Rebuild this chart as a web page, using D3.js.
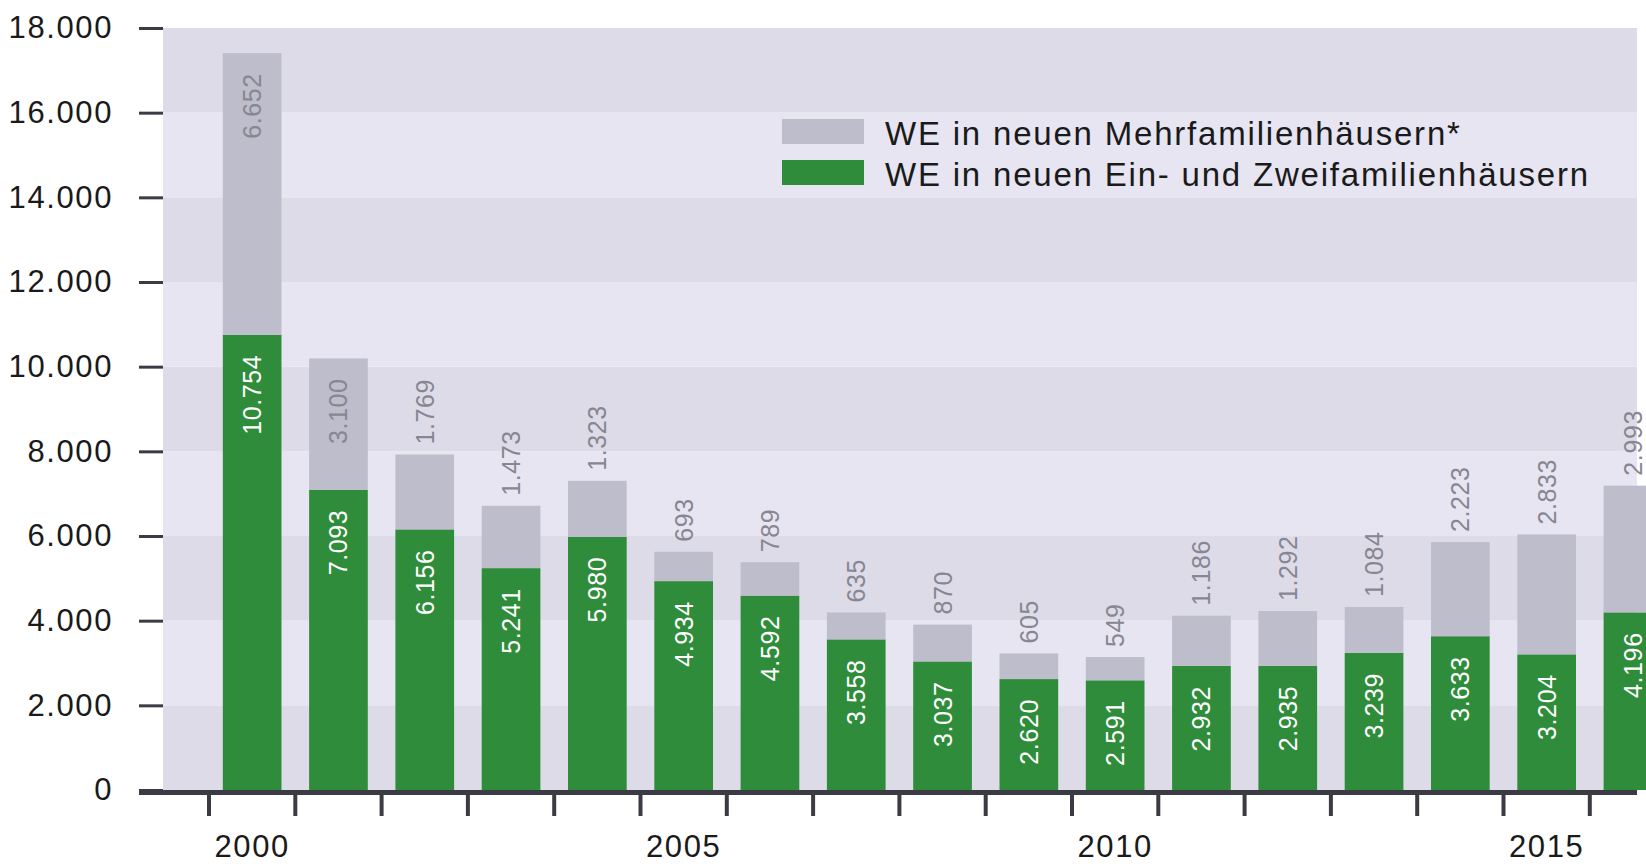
<!DOCTYPE html>
<html>
<head>
<meta charset="utf-8">
<script src="https://cdn.jsdelivr.net/npm/d3@7"></script>
<style>
  body { margin: 0; background: #fff; }
  svg { display: block; }
  text { font-family: "Liberation Sans", Arial, sans-serif; }
</style>
</head>
<body>
<div id="chart"></div>
<script>
// Wohneinheiten (WE) in neuen Wohngebäuden, 2000-2016
var years = [2000, 2001, 2002, 2003, 2004, 2005, 2006, 2007, 2008, 2009, 2010, 2011, 2012, 2013, 2014, 2015, 2016];
var einZwei = [10754, 7093, 6156, 5241, 5980, 4934, 4592, 3558, 3037, 2620, 2591, 2932, 2935, 3239, 3633, 3204, 4196];
var mehr = [6652, 3100, 1769, 1473, 1323, 693, 789, 635, 870, 605, 549, 1186, 1292, 1084, 2223, 2833, 2993];
var yTicks = [0, 2000, 4000, 6000, 8000, 10000, 12000, 14000, 16000, 18000];
var xLabels = [2000, 2005, 2010, 2015];
var seriesNames = ['WE in neuen Mehrfamilienhäusern*', 'WE in neuen Ein- und Zweifamilienhäusern'];

var W = 1646, H = 866;
var green = '#2f8c3a', grey = '#bebdcb', axisCol = '#3b3b44';

var de = d3.formatLocale({ decimal: ',', thousands: '.', grouping: [3], currency: ['', ' €'] });
var fmt = de.format(',');

var svg = d3.select('#chart').append('svg').attr('width', W).attr('height', H);

var plotLeft = 163, plotRight = 1637;

var y = d3.scaleLinear().domain([0, 18000]).range([790, 28]);

var xScale = d3.scaleBand()
    .domain(years)
    .range([209, 209 + 17 * 86.3])
    .paddingInner(0.32)
    .paddingOuter(0.16);

// striped background
var bands = d3.range(0, 18000, 2000);
svg.append('g').selectAll('rect')
    .data(bands)
    .enter().append('rect')
    .attr('x', plotLeft)
    .attr('width', plotRight - plotLeft)
    .attr('y', d => y(d + 2000))
    .attr('height', d => y(d) - y(d + 2000))
    .attr('fill', (d, i) => i % 2 == 0 ? '#dddbe8' : '#e7e5f1');

// y axis
var yAxis = svg.append('g')
    .attr('transform', `translate(${plotLeft}, 0)`)
    .call(d3.axisLeft(y).tickValues(yTicks).tickFormat(fmt).tickSize(24).tickPadding(26));
yAxis.select('.domain').remove();
yAxis.selectAll('line').attr('stroke', axisCol).attr('stroke-width', 3);
yAxis.selectAll('text')
    .attr('fill', '#1a1a1a')
    .style('font-size', '31px')
    .style('letter-spacing', '1.6px');

// bars
var rows = years.map((yr, i) => ({ year: yr, a: einZwei[i], b: mehr[i] }));

var g = svg.append('g');
g.selectAll('.green')
    .data(rows)
    .enter().append('rect')
    .attr('x', d => xScale(d.year))
    .attr('width', xScale.bandwidth())
    .attr('y', d => y(d.a))
    .attr('height', d => y(0) - y(d.a))
    .attr('fill', green);

g.selectAll('.grey')
    .data(rows)
    .enter().append('rect')
    .attr('x', d => xScale(d.year))
    .attr('width', xScale.bandwidth())
    .attr('y', d => y(d.a + d.b))
    .attr('height', d => y(d.a) - y(d.a + d.b))
    .attr('fill', grey);

// value labels (rotated)
var cx = d => xScale(d.year) + xScale.bandwidth() / 2;

g.selectAll('.lblA')
    .data(rows)
    .enter().append('text')
    .attr('transform', d => `translate(${cx(d)}, ${y(d.a) + 20}) rotate(-90)`)
    .attr('dy', '0.36em')
    .attr('text-anchor', 'end')
    .attr('fill', '#fff')
    .style('font-size', '25px')
    .style('letter-spacing', '0.6px')
    .text(d => fmt(d.a));

g.selectAll('.lblB')
    .data(rows)
    .enter().append('text')
    .attr('transform', d => {
        var top = y(d.a + d.b);
        var inside = d.a + d.b > 10000;
        return `translate(${cx(d)}, ${inside ? top + 20 : top - 10}) rotate(-90)`;
    })
    .attr('dy', '0.36em')
    .attr('text-anchor', d => d.a + d.b > 10000 ? 'end' : 'start')
    .attr('fill', '#878692')
    .style('font-size', '25px')
    .style('letter-spacing', '0.6px')
    .text(d => fmt(d.b));

// x axis
svg.append('line')
    .attr('x1', 139).attr('x2', plotRight)
    .attr('y1', y(0) + 2.5).attr('y2', y(0) + 2.5)
    .attr('stroke', axisCol).attr('stroke-width', 5);

var gap = (xScale.step() - xScale.bandwidth()) / 2;
svg.append('g').selectAll('line')
    .data(years.filter(d => xScale(d) - gap < plotRight))
    .enter().append('line')
    .attr('x1', d => xScale(d) - gap).attr('x2', d => xScale(d) - gap)
    .attr('y1', y(0) + 4).attr('y2', y(0) + 26)
    .attr('stroke', axisCol).attr('stroke-width', 4);

var xAxis = svg.append('g')
    .attr('transform', `translate(0, ${y(0)})`)
    .call(d3.axisBottom(xScale).tickValues(xLabels).tickSize(0).tickPadding(45));
xAxis.select('.domain').remove();
xAxis.selectAll('text')
    .attr('fill', '#1a1a1a')
    .style('font-size', '31px')
    .style('letter-spacing', '1.6px');

// legend
var legend = svg.append('g').attr('transform', 'translate(782, 119)');
var legendColors = [grey, green];
seriesNames.forEach((name, i) => {
    legend.append('rect')
        .attr('x', 0).attr('y', i * 41)
        .attr('width', 82).attr('height', 25)
        .attr('fill', legendColors[i]);
    legend.append('text')
        .attr('x', 103).attr('y', i * 41 + 26)
        .attr('fill', '#1a1a1a')
        .style('font-size', '33px')
        .style('letter-spacing', '1.8px')
        .text(name);
});
</script>
</body>
</html>
